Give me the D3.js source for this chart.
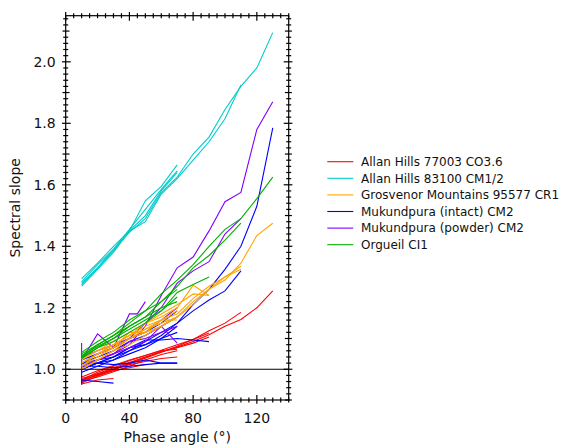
<!DOCTYPE html>
<html><head><meta charset="utf-8">
<script src="https://cdn.jsdelivr.net/npm/d3@7"></script>
<style>body{margin:0;background:#fff}svg{display:block}</style>
</head><body><svg id="c" width="563" height="447"></svg>
<script>
// ---- data (phase angle in degrees, spectral slope) ----
const seriesNames = ["Allan Hills 77003 CO3.6","Allan Hills 83100 CM1/2","Grosvenor Mountains 95577 CR1","Mukundpura (intact) CM2","Mukundpura (powder) CM2","Orgueil CI1"];
const seriesColors = ["#ff0000","#00cccc","#ffa500","#0000ff","#7f00ff","#00b000"];
const drawOrder = [0,1,3,4,2,5];
const xTicks = [0,40,80,120];
const yTicks = [1.0,1.2,1.4,1.6,1.8,2.0];

const allanHills77003 = [
 [[10,0.958],[20,0.985],[30,1.005],[40,1.022],[50,1.04],[60,1.056],[70,1.072],[80,1.09],[90,1.112],[100,1.14],[110,1.162],[120,1.2],[130,1.255]],
 [[10,0.955],[20,0.978],[30,0.998],[40,1.018],[50,1.036],[60,1.055],[70,1.075],[80,1.097],[90,1.125],[100,1.15],[110,1.185]],
 [[10,0.965],[20,0.99],[30,1.01],[40,1.028],[50,1.045],[60,1.062],[70,1.08],[80,1.097],[90,1.118]],
 [[10,0.962],[20,0.982],[30,1.0],[40,1.02],[50,1.038],[60,1.058],[70,1.07],[80,1.085],[90,1.105]],
 [[10,0.97],[20,0.985],[30,1.0],[40,1.015],[50,1.025],[60,1.035],[70,1.04]],
 [[10,0.966],[20,0.98],[30,0.995],[40,1.005],[50,1.016]],
 [[10,0.952],[20,0.965],[30,0.97]],
 [[10,0.975],[20,0.995],[30,1.012],[40,1.03],[50,1.045],[60,1.06],[70,1.065]],
 [[10,0.96],[20,0.975],[30,0.992],[40,1.01],[50,1.03],[60,1.048],[70,1.06]]
];
const allanHills83100 = [
 [[10,1.285],[20,1.34],[30,1.39],[40,1.445],[50,1.49],[60,1.575],[70,1.625],[80,1.70],[90,1.755],[100,1.845],[110,1.92],[120,1.98],[130,2.095]],
 [[10,1.28],[20,1.33],[30,1.385],[40,1.45],[50,1.48],[60,1.57],[70,1.62],[80,1.68],[90,1.74],[100,1.815],[110,1.925]],
 [[10,1.295],[20,1.345],[30,1.40],[40,1.45],[50,1.548],[60,1.595],[70,1.665]],
 [[10,1.275],[20,1.33],[30,1.39],[40,1.455],[50,1.52],[60,1.585],[70,1.645]],
 [[10,1.27],[20,1.325],[30,1.38],[40,1.45],[50,1.50],[60,1.58],[70,1.64]]
];
const grosvenor95577 = [
 [[10,1.01],[20,1.04],[30,1.07],[40,1.10],[50,1.13],[60,1.15],[70,1.17],[80,1.22],[90,1.26],[100,1.29],[110,1.345],[120,1.435],[130,1.475]],
 [[10,1.02],[20,1.05],[30,1.08],[40,1.11],[50,1.13],[60,1.16],[70,1.18],[80,1.23],[90,1.27],[100,1.30],[110,1.335]],
 [[10,1.0],[20,1.03],[30,1.06],[40,1.08],[50,1.11],[60,1.14],[70,1.17],[80,1.21],[90,1.26],[100,1.30],[110,1.325]],
 [[10,1.03],[20,1.06],[30,1.09],[40,1.12],[50,1.15],[60,1.17],[70,1.20],[80,1.273],[90,1.24]],
 [[10,1.02],[20,1.05],[30,1.08],[40,1.11],[50,1.15],[60,1.18],[70,1.21],[80,1.245],[90,1.24]],
 [[10,1.0],[20,1.03],[30,1.06],[40,1.10],[50,1.12],[60,1.14],[70,1.17]],
 [[10,1.01],[20,1.05],[30,1.07],[40,1.12],[50,1.12],[60,1.16],[70,1.16]],
 [[10,1.035],[20,1.06],[30,1.08],[40,1.11],[50,1.14],[60,1.16],[70,1.19]]
];
const mukundpuraIntact = [
 [[10,1.0],[20,1.02],[30,1.04],[40,1.06],[50,1.09],[60,1.12],[70,1.15],[80,1.21],[90,1.26],[100,1.325],[110,1.40],[120,1.53],[130,1.785]],
 [[10,1.0],[20,1.02],[30,1.03],[40,1.06],[50,1.08],[60,1.11],[70,1.15],[80,1.19],[90,1.225],[100,1.255],[110,1.32]],
 [[10,1.0],[20,1.02],[30,1.04],[40,1.07],[50,1.095],[60,1.095],[70,1.10],[80,1.095],[90,1.09]],
 [[10,1.02],[20,1.02],[30,1.015],[40,1.02],[50,1.03],[60,1.02],[70,1.02]],
 [[10,1.01],[20,1.01],[30,1.005],[40,1.01],[50,1.015],[60,1.02],[70,1.02]],
 [[10,0.965],[20,0.96],[30,0.955]],
 [[10,0.95],[10,1.02],[20,1.03],[30,1.04],[40,1.07],[50,1.08],[60,1.10],[70,1.12]],
 [[10,1.02],[20,1.04],[30,1.06],[40,1.09],[50,1.11],[60,1.14],[70,1.17]],
 [[10,1.03],[20,1.05],[30,1.07],[40,1.10],[50,1.12],[60,1.15],[70,1.19]],
 [[10,0.99],[20,1.01],[30,1.03],[40,1.05],[50,1.07],[60,1.10],[70,1.14]]
];
const mukundpuraPowder = [
 [[10,1.01],[20,1.03],[30,1.05],[40,1.08],[50,1.14],[60,1.24],[70,1.33],[80,1.365],[90,1.45],[100,1.545],[110,1.575],[120,1.78],[130,1.87]],
 [[10,1.02],[20,1.05],[30,1.07],[40,1.10],[50,1.15],[60,1.20],[70,1.28],[80,1.32],[90,1.35],[100,1.44],[110,1.49]],
 [[10,1.03],[20,1.115],[30,1.07],[40,1.18],[45,1.18],[50,1.22]],
 [[10,1.085],[10,1.0],[20,1.03],[30,1.05],[40,1.09],[50,1.10],[60,1.12],[70,1.14]],
 [[10,1.0],[20,1.03],[30,1.05],[40,1.07],[50,1.09],[60,1.14],[70,1.085]],
 [[10,1.04],[20,1.06],[30,1.08],[40,1.10],[50,1.12],[60,1.16],[70,1.20]]
];
const orgueil = [
 [[10,1.05],[20,1.08],[30,1.11],[40,1.15],[50,1.19],[60,1.245],[70,1.29],[80,1.34],[90,1.40],[100,1.455],[110,1.49],[120,1.555],[130,1.625]],
 [[10,1.045],[20,1.075],[30,1.10],[40,1.14],[50,1.17],[60,1.22],[70,1.27],[80,1.33],[90,1.37],[100,1.42],[110,1.475]],
 [[10,1.04],[20,1.07],[30,1.09],[40,1.12],[50,1.15],[60,1.19],[70,1.25],[80,1.276],[90,1.30]],
 [[10,1.04],[20,1.08],[30,1.11],[40,1.14],[50,1.17],[60,1.20],[70,1.22]],
 [[10,1.055],[20,1.09],[30,1.12],[40,1.16],[50,1.19],[60,1.22],[70,1.26]],
 [[10,1.035],[20,1.07],[30,1.10],[40,1.13],[50,1.16],[60,1.19],[70,1.235]]
];
const seriesLines = [allanHills77003, allanHills83100, grosvenor95577, mukundpuraIntact, mukundpuraPowder, orgueil];

// ---- layout ----
const L = 65.7, R = 288.7, T = 15.7, B = 400;
const svg = d3.select("#c");
const x = d3.scaleLinear().domain([0,140]).range([L,R]);
const y = d3.scaleLinear().domain([0.9,2.15]).range([B,T]);
const font = "DejaVu Sans, sans-serif";

svg.append("clipPath").attr("id","pc").append("rect")
  .attr("x",L).attr("y",T).attr("width",R-L).attr("height",B-T);
const plot = svg.append("g").attr("clip-path","url(#pc)");
const line = d3.line().x(d=>x(d[0])).y(d=>y(d[1]));
drawOrder.forEach(i=>{
  plot.append("g").selectAll("path").data(seriesLines[i]).join("path")
    .attr("d",line).attr("fill","none").attr("stroke",seriesColors[i]).attr("stroke-width",1.1);
});
// reference line at 1.0
svg.append("line").attr("x1",L).attr("x2",R).attr("y1",y(1)).attr("y2",y(1))
  .attr("stroke","#000").attr("stroke-width",1);

// frame
svg.append("rect").attr("x",L).attr("y",T).attr("width",R-L).attr("height",B-T)
  .attr("fill","none").attr("stroke","#000").attr("stroke-width",1.2);

// ticks
const tk = svg.append("g").attr("stroke","#000").attr("stroke-width",1.2);
d3.range(0,141,5).forEach(v=>{
  const major = v%40===0;
  const o = major?3.7:2.5, inn = major?5:2.5;
  const px = x(v);
  tk.append("line").attr("x1",px).attr("x2",px).attr("y1",B+o).attr("y2",B-inn);
  tk.append("line").attr("x1",px).attr("x2",px).attr("y1",T-o).attr("y2",T+inn);
});
d3.range(0,63).map(k=>+(0.9+k*0.02).toFixed(2)).filter(v=>v<=2.15).forEach(v=>{
  const k = Math.round(v*100);
  const major = k%20===0, mid = k%10===0;
  const o = major?3.7:(mid?3.2:2.5), inn = major?5:(mid?3.8:2.5);
  const py = y(v);
  tk.append("line").attr("y1",py).attr("y2",py).attr("x1",L-o).attr("x2",L+inn);
  tk.append("line").attr("y1",py).attr("y2",py).attr("x1",R+o).attr("x2",R-inn);
});

// tick labels
const txt = svg.append("g").attr("font-family",font).attr("fill","#111");
txt.selectAll(".xl").data(xTicks).join("text")
  .attr("x",d=>x(d)).attr("y",423).attr("text-anchor","middle").attr("font-size",14).text(d=>d);
txt.selectAll(".yl").data(yTicks).join("text")
  .attr("x",L-10).attr("y",d=>y(d)+5).attr("text-anchor","end").attr("font-size",14).text(d=>d.toFixed(1));
txt.append("text").attr("x",(L+R)/2).attr("y",442).attr("text-anchor","middle").attr("font-size",14)
  .text("Phase angle (°)");
txt.append("text").attr("transform",`translate(19.5,${(T+B)/2}) rotate(-90)`).attr("text-anchor","middle")
  .attr("font-size",14).text("Spectral slope");

// legend
const lg = svg.append("g").attr("font-family",font);
seriesNames.forEach((n,i)=>{
  const yy = 161.7 + i*16.6;
  lg.append("line").attr("x1",327.3).attr("x2",353.3).attr("y1",yy).attr("y2",yy)
    .attr("stroke",seriesColors[i]).attr("stroke-width",1.1);
  lg.append("text").attr("x",361).attr("y",yy+4.3).attr("font-size",12).attr("fill","#111").text(n);
});
</script></body></html>
